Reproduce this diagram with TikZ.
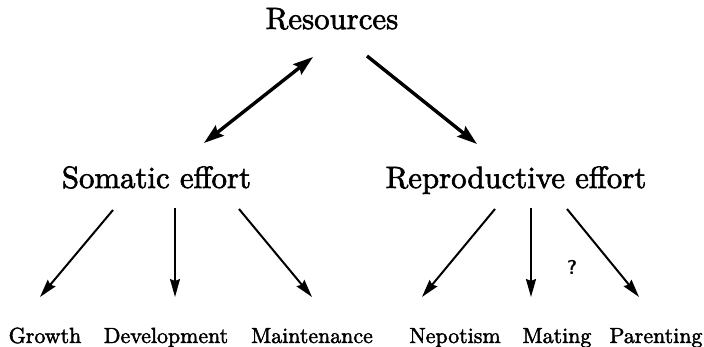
\documentclass[tikz,border=0pt]{standalone}
\usepackage{fontspec}
\setmainfont{lmroman10-regular.otf}[FakeBold=2]
\usetikzlibrary{calc,arrows.meta}
\tikzset{
	bigtext/.style={font=\fontsize{30.8}{37}\selectfont, inner sep=0pt, anchor=base},
	smalltext/.style={font=\fontsize{21.9}{26}\selectfont, inner sep=0pt, anchor=base},
	bigarrow/.style={line width=3.4pt, -{Stealth[length=20pt,width=13pt,inset=3pt]}},
	bigboth/.style={line width=3.4pt, {Stealth[length=20pt,width=13pt,inset=3pt]}-{Stealth[length=20pt,width=13pt,inset=3pt]}},
	smallarrow/.style={line width=2pt, -{Stealth[length=18pt,width=10pt,inset=2pt]}},
}

\begin{document}
\begin{tikzpicture}[x=1pt,y=-1pt]
		%%%%% START %%%%%
		\useasboundingbox (0, 0) rectangle (704, 347);
		
		\node[bigtext] (res) at (332, 29) {Resources};
		\node[bigtext] (soma) at (156.5, 188) {Somatic effort};
		\node[bigtext] (repro) at (516, 188) {Reproductive effort};
		
		\node[smalltext] (growth) at (45, 343) {Growth};
		\node[smalltext] (devel) at (166, 343) {Development};
		\node[smalltext] (maint) at (312, 343) {Maintenance};
		\node[smalltext] (nepot) at (455, 343) {Nepotism};
		\node[smalltext] (mating) at (557, 343) {Mating};
		\node[smalltext] (parent) at (656, 343) {Parenting};
		
		\node[font=\fontsize{20}{22}\sffamily\bfseries, inner sep=0pt] (query) at (572, 267) {?};
		
		% resources to the two efforts
		\draw[bigboth] ($(soma.base)+(47.5, -45)$) -- ($(res.base)+(-19, 28)$);
		\draw[bigarrow] ($(res.base)+(35, 27)$) -- ($(repro.base)+(-39, -44)$);
		
		% somatic effort
		\draw[smallarrow] ($(soma.base)+(-43.5, 22)$) -- ($(growth.base)+(-5, -46)$);
		\draw[smallarrow, line width=1.4pt] ($(soma.base)+(18.5, 20)$) -- ($(devel.base)+(9, -46)$);
		\draw[smallarrow] ($(soma.base)+(82.5, 21)$) -- ($(maint.base)+(0, -46)$);
		
		% reproductive effort
		\draw[smallarrow] ($(repro.base)+(-21, 21)$) -- ($(nepot.base)+(-33, -46)$);
		\draw[smallarrow] ($(repro.base)+(15, 20)$) -- ($(mating.base)+(-26, -46)$);
		\draw[smallarrow] ($(repro.base)+(51, 21)$) -- ($(parent.base)+(-17, -46)$);
		
		%%%%% END %%%%%
\end{tikzpicture}
\end{document}
